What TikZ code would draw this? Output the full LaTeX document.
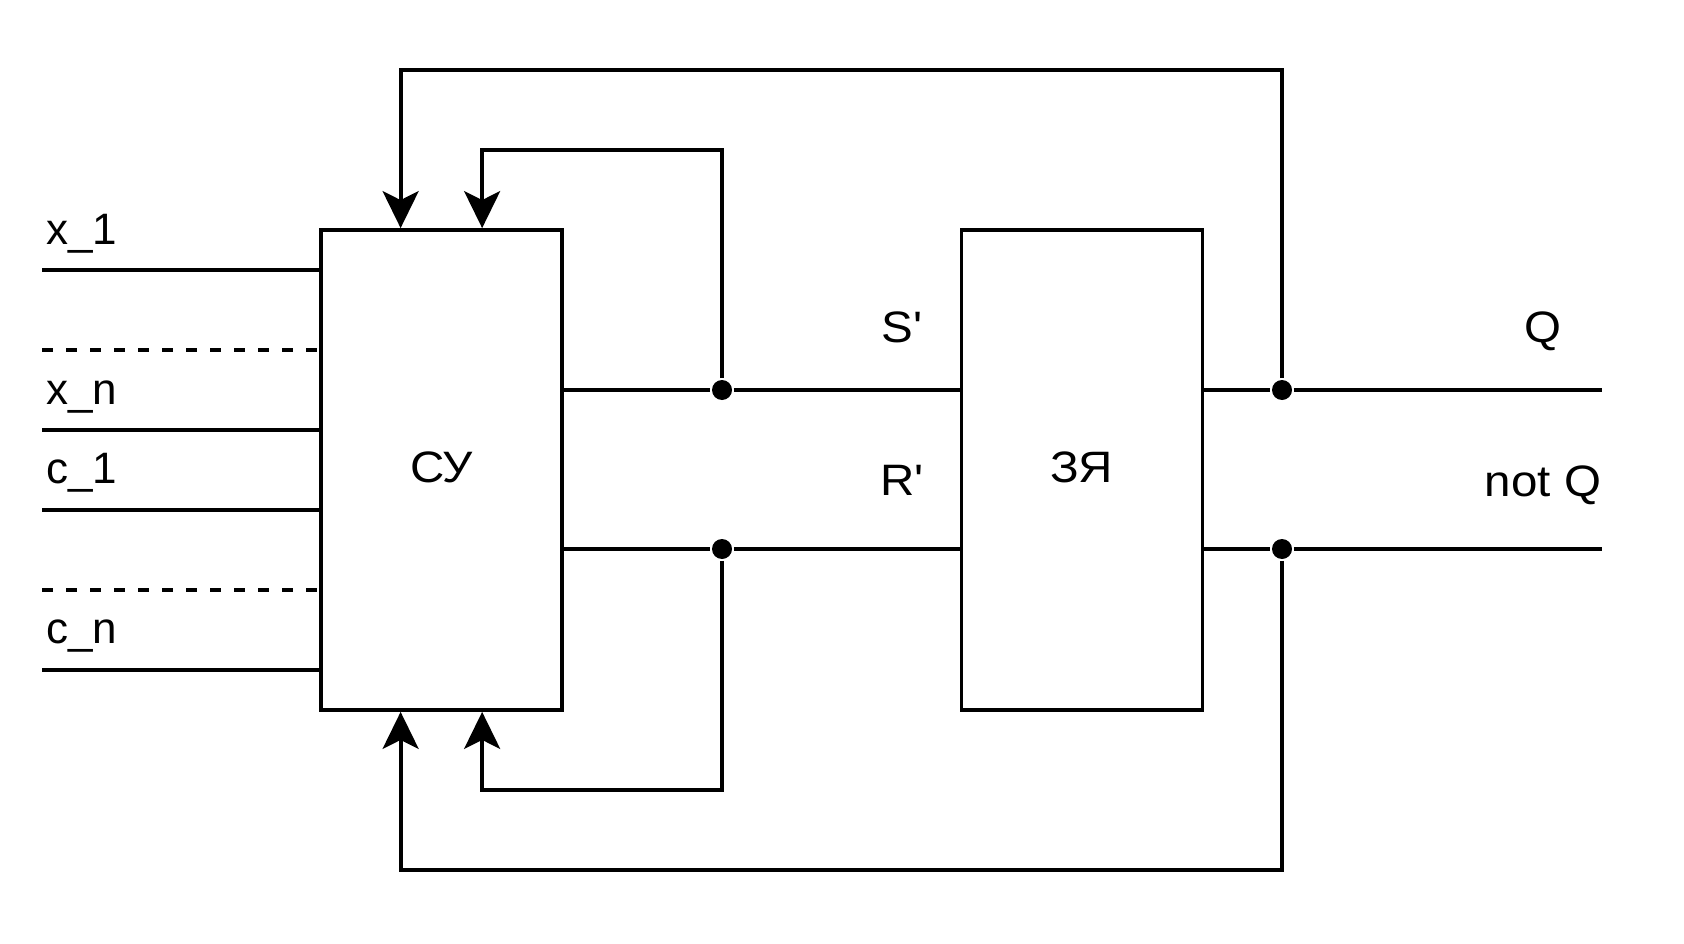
\documentclass[tikz,border=0pt]{standalone}
\usepackage{fontspec}
\setmainfont{Liberation Sans}[FakeStretch=1.08]
\newfontfamily\inputfont{Liberation Sans}
\usetikzlibrary{arrows.meta, calc}

\begin{document}
\begin{tikzpicture}
            [
                x=1pt, y=-1pt,
                line width=3.8pt,
                font=\fontsize{44pt}{52pt}\selectfont,
                block/.style={draw, minimum width=241pt, minimum height=480pt, inner sep=0pt, text depth=5pt},
                junction/.style={circle, fill, inner sep=0pt, minimum size=20pt},
                feedback/.style={-{Stealth[length=37pt, width=36pt, inset=9pt]}},
                gap/.style={dash pattern=on 11pt off 13pt},
                input label/.style={anchor=base west, font=\inputfont\fontsize{44pt}{52pt}\selectfont}
            ]
            \useasboundingbox (0,0) rectangle (1684,944);

            % blocks
            \node[block] (su) at (441.5,470) {СУ};
            \node[block] (zr) at (1082,470) {ЗЯ};

            \coordinate (su-n1) at ($(su.north west)!0.333!(su.north east)$);
            \coordinate (su-n2) at ($(su.north west)!0.666!(su.north east)$);
            \coordinate (su-s1) at ($(su.south west)!0.333!(su.south east)$);
            \coordinate (su-s2) at ($(su.south west)!0.666!(su.south east)$);

            % inputs
            \coordinate (x1) at (42,270);
            \coordinate (xdots) at (42,349.6);
            \coordinate (xn) at (42,430);
            \coordinate (c1) at (42,509.6);
            \coordinate (cdots) at (42,589.6);
            \coordinate (cn) at (42,670);
            \draw (x1) -- (x1 -| su.west);
            \draw[gap] (xdots) -- ++(275,0);
            \draw (xn) -- (xn -| su.west);
            \draw (c1) -- (c1 -| su.west);
            \draw[gap] (cdots) -- ++(275,0);
            \draw (cn) -- (cn -| su.west);
            \node[input label] (x1-label) at (41,244) {x\_1};
            \node[input label] (xn-label) at (41,404) {x\_n};
            \node[input label] (c1-label) at (41,483.6) {c\_1};
            \node[input label] (cn-label) at (41,643.6) {c\_n};

            % junctions
            \node[junction] (js) at (722,390) {};
            \node[junction] (jr) at (722,549) {};
            \node[junction] (jq) at (1282,390) {};
            \node[junction] (jnq) at (1282,549) {};

            % S', R' between the blocks
            \draw (su.east |- js) -- (js) -- (zr.west |- js);
            \draw (su.east |- jr) -- (jr) -- (zr.west |- jr);
            \node[anchor=base] (s-label) at (902,342) {S\textquotesingle};
            \node[anchor=base] (r-label) at (902,495) {R\textquotesingle};

            % outputs
            \coordinate (q-end) at (1602,390);
            \coordinate (nq-end) at (1602,549);
            \draw (zr.east |- jq) -- (jq) -- (q-end);
            \draw (zr.east |- jnq) -- (jnq) -- (nq-end);
            \node[anchor=base] (q-label) at (1543,342) {Q};
            \node[anchor=base] (nq-label) at (1543,496) {not Q};

            % feedback
            \draw[feedback] (js) -- ++(0,-240) -| (su-n2);
            \draw[feedback] (jq) -- ++(0,-320) -| (su-n1);
            \draw[feedback] (jr) -- ++(0,241) -| (su-s2);
            \draw[feedback] (jnq) -- ++(0,321) -| (su-s1);
        \end{tikzpicture}
\end{document}
